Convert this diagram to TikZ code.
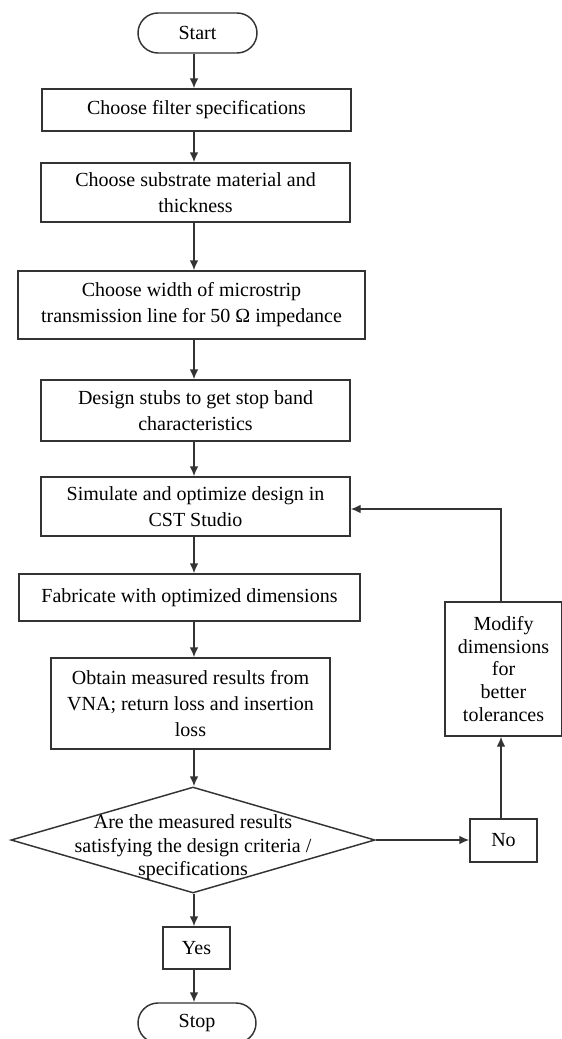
\documentclass[tikz,border=0pt]{standalone}
\usepackage{fontspec}
\setmainfont{Liberation Serif}
\usepackage{tikz}
\usetikzlibrary{arrows.meta,positioning,calc,shapes.geometric}

\tikzset{
    flowline/.style={draw=black!80, line width=1.1pt},
    flowarrow/.style={flowline, -{Latex[length=7.5pt,width=6.5pt]}},
    terminal/.style={flowline, rectangle, rounded corners=15pt, inner sep=0pt, align=center},
    stepbox/.style={flowline, rectangle, inner sep=0pt, align=center},
    decision/.style={flowline, diamond, inner sep=0pt}
}

\begin{document}
\begin{tikzpicture}[x=0.75pt, y=-0.75pt, font=\fontsize{15}{19.5}\selectfont]
        \useasboundingbox (0,0) rectangle (561,1039);

        % Main column
        \node[terminal, minimum width=89.25pt, minimum height=30pt] (start) at (197.5,33) {Start};
        \node[stepbox, minimum width=231.75pt, minimum height=31.5pt] (filter) at (196.5,110) {Choose filter specifications};
        \node[stepbox, minimum width=231.75pt, minimum height=44.25pt] (substrate) at (195.5,192.5) {Choose substrate material and\\thickness};
        \node[stepbox, minimum width=260.25pt, minimum height=51pt] (linewidth) at (191.5,305) {Choose width of microstrip\\transmission line for 50 Ω impedance};
        \node[stepbox, minimum width=231.75pt, minimum height=45.75pt] (stubs) at (195.5,410.5) {Design stubs to get stop band\\characteristics};
        \node[stepbox, minimum width=231.75pt, minimum height=44.25pt] (simulate) at (195.5,506.5) {Simulate and optimize design in\\CST Studio};
        \node[stepbox, minimum width=255.75pt, minimum height=35.25pt] (fabricate) at (189.5,597.5) {Fabricate with optimized dimensions};
        \node[stepbox, minimum width=209.25pt, minimum height=68.25pt] (measure) at (190.5,703.5) {Obtain measured results from\\VNA; return loss and insertion\\loss};

        % Decision
        \node[decision, minimum width=273pt, minimum height=79.5pt,
              label={[align=center, font=\fontsize{15}{17.5}\selectfont, yshift=-5.5pt]center:{Are the measured results\\satisfying the design criteria /\\specifications}}] (check) at (193,840) {};
        \node[stepbox, minimum width=50.25pt, minimum height=31.5pt] (yes) at (196.5,948) {Yes};
        \node[terminal, minimum width=88.5pt, minimum height=30pt] (stop) at (197,1023) {Stop};

        % Loop back
        \node[stepbox, minimum width=50.25pt, minimum height=32.25pt] (no) at (503.5,840.5) {No};
        \node[stepbox, minimum width=87.75pt, minimum height=100.5pt, font=\fontsize{15}{17}\selectfont] (modify) at (503.5,669) {Modify\\dimensions\\for\\better\\tolerances};

        % Columns for the vertical arrows
        \coordinate (maincol) at (194,0);
        \coordinate (loopcol) at (501,0);

        % Arrows down the main column
        \draw[flowarrow] (start.south -| maincol) -- (filter.north -| maincol);
        \draw[flowarrow] (filter.south -| maincol) -- (substrate.north -| maincol);
        \draw[flowarrow] (substrate.south -| maincol) -- (linewidth.north -| maincol);
        \draw[flowarrow] (linewidth.south -| maincol) -- (stubs.north -| maincol);
        \draw[flowarrow] (stubs.south -| maincol) -- (simulate.north -| maincol);
        \draw[flowarrow] (simulate.south -| maincol) -- (fabricate.north -| maincol);
        \draw[flowarrow] (fabricate.south -| maincol) -- (measure.north -| maincol);
        \draw[flowarrow] (measure.south -| maincol) -- (check.north -| maincol);
        \draw[flowarrow] (check.south -| maincol) -- (yes.north -| maincol);
        \draw[flowarrow] (yes.south -| maincol) -- (stop.north -| maincol);

        % Arrows of the loop
        \draw[flowarrow] (check.east) -- (no.west |- check.east);
        \draw[flowarrow] (no.north -| loopcol) -- (modify.south -| loopcol);
        \draw[flowarrow] (modify.north -| loopcol) |- ($(simulate.east)+(0,2.5)$);
\end{tikzpicture}
\end{document}
